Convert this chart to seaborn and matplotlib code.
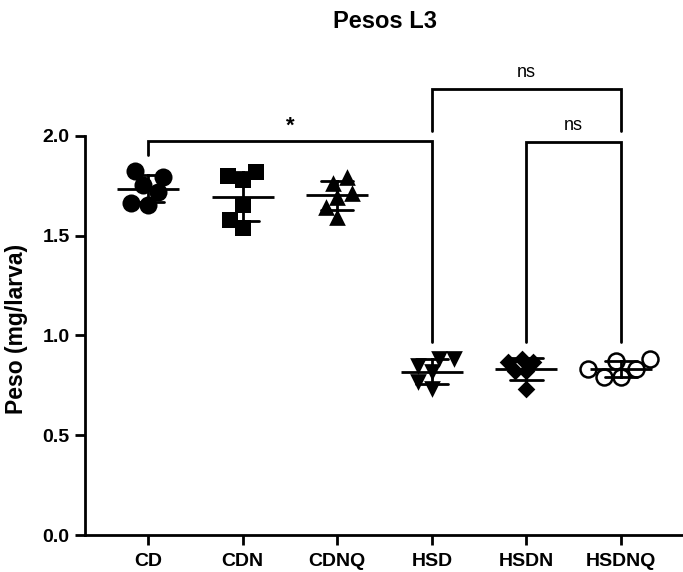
import matplotlib
matplotlib.use("Agg")
import matplotlib.pyplot as plt
import seaborn as sns
import pandas as pd

# Larval weight (mg/larva) per diet group, six larvae each
groups = ["CD", "CDN", "CDNQ", "HSD", "HSDN", "HSDNQ"]
cd = [1.795, 1.825, 1.755, 1.72, 1.655, 1.665]
cdn = [1.82, 1.78, 1.80, 1.655, 1.58, 1.54]
cdnq = [1.795, 1.765, 1.715, 1.695, 1.645, 1.595]
hsd = [0.845, 0.88, 0.88, 0.815, 0.765, 0.73]
hsdn = [0.88, 0.865, 0.865, 0.82, 0.82, 0.73]
hsdnq = [0.87, 0.88, 0.83, 0.83, 0.79, 0.79]
y_ticks = [0.0, 0.5, 1.0, 1.5, 2.0]

# Significance comparisons: (left group, right group, label)
comparisons = [("CD", "HSD", "*"), ("HSD", "HSDNQ", "ns"), ("HSDN", "HSDNQ", "ns")]

values = [cd, cdn, cdnq, hsd, hsdn, hsdnq]
df = pd.DataFrame({
    "grupo": [g for g, v in zip(groups, values) for _ in v],
    "peso": [x for v in values for x in v],
})

sns.set_theme(style="ticks")
plt.rcParams["font.family"] = ["Liberation Sans", "DejaVu Sans"]
plt.rcParams["text.color"] = "black"
plt.rcParams["axes.labelcolor"] = "black"

fig = plt.figure(figsize=(6.83, 5.72), dpi=100)
ax = fig.add_axes([85 / 683, 37 / 572, 598 / 683, 479 / 572])

marker_styles = {
    "CD": dict(marker="o", color="black", linewidth=0),
    "CDN": dict(marker="s", color="black", linewidth=0),
    "CDNQ": dict(marker="^", color="black", linewidth=0),
    "HSD": dict(marker="v", color="black", linewidth=0),
    "HSDN": dict(marker="D", color="black", linewidth=0),
    "HSDNQ": dict(marker="o", color="white", edgecolor="black", linewidth=1.8),
}
# marker size (pt) shown, and a slightly tighter size used for the swarm layout
marker_size = {"CD": 13, "CDN": 12, "CDNQ": 12, "HSD": 12, "HSDN": 9, "HSDNQ": 11.5}
layout_scale = 0.88

swarms = []
for g in groups:
    n_before = len(ax.collections)
    sns.swarmplot(data=df[df["grupo"] == g], x="grupo", y="peso", order=groups,
                  ax=ax, size=marker_size[g] * layout_scale, zorder=2,
                  **marker_styles[g])
    swarms.append((g, ax.collections[n_before:]))

# Mean line with +/- SD error bars, drawn over the points
sns.pointplot(data=df, x="grupo", y="peso", order=groups, errorbar="sd",
              capsize=0.34, color="black", marker="_", markersize=45,
              markeredgewidth=2, linestyle="none", zorder=5,
              err_kws={"linewidth": 2, "zorder": 5}, ax=ax)

ax.set_xlim(-0.666, 5.655)
ax.set_ylim(0, 2.4)
ax.set_yticks(y_ticks)
ax.set_yticklabels([f"{t:.1f}" for t in y_ticks])
ax.set_xlabel("")
ax.set_ylabel("Peso (mg/larva)", fontsize=16.5, fontweight="bold")
ax.yaxis.set_label_coords(-0.095, 0.43)

for s in ["top", "right"]:
    ax.spines[s].set_visible(False)
ax.spines["left"].set_bounds(0, 2.0)
for s in ["left", "bottom"]:
    ax.spines[s].set_linewidth(2)
    ax.spines[s].set_color("black")
ax.tick_params(axis="both", width=2, length=7, color="black", labelsize=14,
               labelcolor="black")
ax.tick_params(axis="y", pad=4)
ax.tick_params(axis="x", pad=6)
for lab in ax.get_xticklabels() + ax.get_yticklabels():
    lab.set_fontweight("bold")

# Significance brackets
pos = {g: i for i, g in enumerate(groups)}
means = {g: sum(v) / len(v) for g, v in zip(groups, values)}
bracket_tops = [1.975, 2.235, 1.97]
for (a, b, lab), top in zip(comparisons, bracket_tops):
    xa, xb = pos[a], pos[b]
    ya = top - 0.07 if means[a] > 1.2 else (0.965 if top < 2.1 else top - 0.21)
    yb = 0.965 if top < 2.1 else top - 0.21
    ax.plot([xa, xa, xb, xb], [ya, top, top, yb], color="black", lw=2,
            solid_joinstyle="miter", clip_on=False)
    if lab == "*":
        ax.text((xa + xb) / 2, top + 0.02, lab, ha="center", va="bottom",
                fontsize=16, fontweight="bold")
    else:
        ax.text((xa + xb) / 2, top + 0.04, lab, ha="center", va="bottom",
                fontsize=13)

fig.text(385 / 683, 1 - 21 / 572, "Pesos L3", ha="center", va="center",
         fontsize=17, fontweight="bold")

# Lay out the swarms once, then keep those offsets and show full-size markers
fig.canvas.draw()
for g, colls in swarms:
    for c in colls:
        c.__dict__.pop("draw", None)
        c.set_sizes([marker_size[g] ** 2])

fig.savefig("out.png", dpi=100)
